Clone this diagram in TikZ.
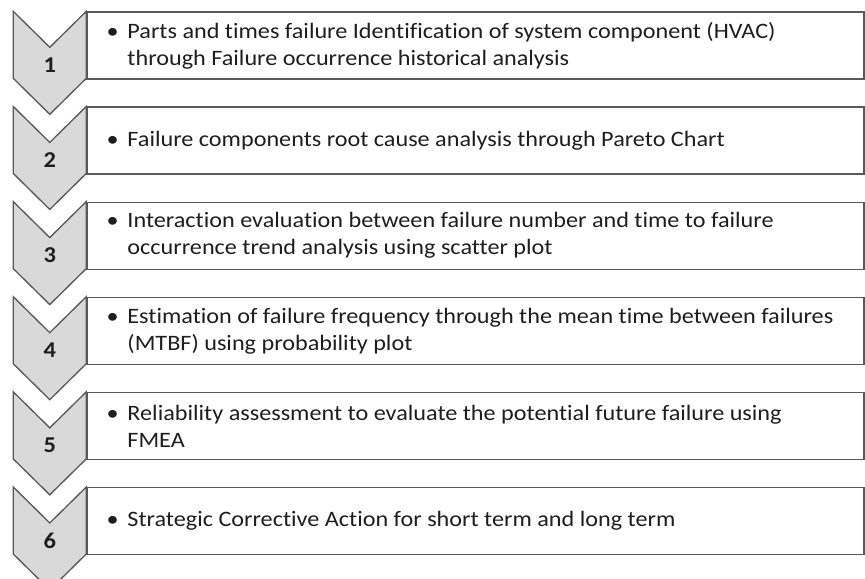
\documentclass[tikz,border=0pt]{standalone}
\usepackage{fontspec}
\setmainfont[Ligatures=NoCommon]{Carlito}
\usetikzlibrary{positioning}
\definecolor{chevfill}{RGB}{217,217,217}
\definecolor{linegray}{RGB}{89,89,89}
\definecolor{textgray}{RGB}{30,30,30}
\newcommand{\gap}{\hphantom{\textbullet\hspace{6pt}}}
\tikzset{step box/.style={rectangle,draw=linegray,line width=1pt,minimum width=582.75pt,minimum height=50.25pt,inner sep=0pt},
	chev/.style={draw=linegray,fill=chevfill,line width=1pt,line join=miter},
	num/.style={font=\fontsize{17pt}{20pt}\selectfont\bfseries,text=textgray,inner sep=0pt,xscale=1.08,transform shape},
	step text/.style={align=left,inner sep=0pt,text=textgray,font=\fontsize{16.5pt}{20.25pt}\selectfont,xscale=1.1,transform shape},
}

\begin{document}
\begin{tikzpicture}[node distance = 20.1pt]
	\useasboundingbox (0,0) rectangle (648.75pt,-434.25pt);
	\node[step box] (b1) at (356.6pt,-34.1pt) {};
	\node[step box] (b2) [below = of b1] {};
	\node[step box] (b3) [below = of b2] {};
	\node[step box] (b4) [below = of b3] {};
	\node[step box] (b5) [below = of b4] {};
	\node[step box] (b6) [below = of b5] {};
	
	% chevrons
	\draw[chev] (b1.north west) -- ++(-27.4pt,-27pt) -- ++(-27.4pt,27pt) -- ++(0,-50.25pt) -- ++(27.4pt,-27pt) -- ++(27.4pt,27pt) -- cycle;
	\draw[chev] (b2.north west) -- ++(-27.4pt,-27pt) -- ++(-27.4pt,27pt) -- ++(0,-50.25pt) -- ++(27.4pt,-27pt) -- ++(27.4pt,27pt) -- cycle;
	\draw[chev] (b3.north west) -- ++(-27.4pt,-27pt) -- ++(-27.4pt,27pt) -- ++(0,-50.25pt) -- ++(27.4pt,-27pt) -- ++(27.4pt,27pt) -- cycle;
	\draw[chev] (b4.north west) -- ++(-27.4pt,-27pt) -- ++(-27.4pt,27pt) -- ++(0,-50.25pt) -- ++(27.4pt,-27pt) -- ++(27.4pt,27pt) -- cycle;
	\draw[chev] (b5.north west) -- ++(-27.4pt,-27pt) -- ++(-27.4pt,27pt) -- ++(0,-50.25pt) -- ++(27.4pt,-27pt) -- ++(27.4pt,27pt) -- cycle;
	\draw[chev] (b6.north west) -- ++(-27.4pt,-27pt) -- ++(-27.4pt,27pt) -- ++(0,-50.25pt) -- ++(27.4pt,-27pt) -- ++(27.4pt,27pt) -- cycle;
	
	\node[num] (n1) at ([xshift=-27.4pt,yshift=-14.6pt]b1.west) {1};
	\node[num] (n2) at ([xshift=-27.4pt,yshift=-14.6pt]b2.west) {2};
	\node[num] (n3) at ([xshift=-27.4pt,yshift=-14.6pt]b3.west) {3};
	\node[num] (n4) at ([xshift=-27.4pt,yshift=-14.6pt]b4.west) {4};
	\node[num] (n5) at ([xshift=-27.4pt,yshift=-14.6pt]b5.west) {5};
	\node[num] (n6) at ([xshift=-27.4pt,yshift=-14.6pt]b6.west) {6};
	
	\node[step text, right = 15pt of b1.west] (t1) {\textbullet\hspace{6pt}Parts and times failure Identification of system component (HVAC)\\\gap through Failure occurrence historical analysis};
	\node[step text, right = 15pt of b2.west] (t2) {\textbullet\hspace{6pt}Failure components root cause analysis through Pareto Chart};
	\node[step text, right = 15pt of b3.west] (t3) {\textbullet\hspace{6pt}Interaction evaluation between failure number and time to failure\\\gap occurrence trend analysis using scatter plot};
	\node[step text, right = 15pt of b4.west] (t4) {\textbullet\hspace{6pt}Estimation of failure frequency through the mean time between failures\\\gap (MTBF) using probability plot};
	\node[step text, right = 15pt of b5.west] (t5) {\textbullet\hspace{6pt}Reliability assessment to evaluate the potential future failure using\\\gap FMEA};
	\node[step text, right = 15pt of b6.west] (t6) {\textbullet\hspace{6pt}Strategic Corrective Action for short term and long term};
\end{tikzpicture}
\end{document}
